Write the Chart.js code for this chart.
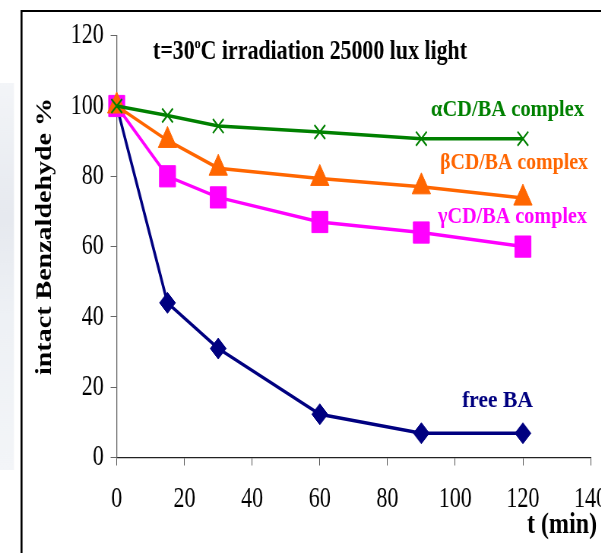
<!DOCTYPE html>
<html>
<head>
<meta charset="utf-8">
<script src="https://cdn.jsdelivr.net/npm/chart.js@4.4.1/dist/chart.umd.min.js"></script>
<style>
    html, body { margin: 0; padding: 0; background: #fff; overflow: hidden; }
    #wrap { width: 601px; height: 553px; overflow: hidden; position: relative; }
    /* the original figure is squeezed sideways, so the whole canvas is too */
    #chart { transform: scaleX(0.76); transform-origin: 0 0; display: block; }
</style>
</head>
<body>
<div id="wrap"><canvas id="chart" width="820" height="553"></canvas></div>
<script>
// Data
const times = [0, 15, 30, 60, 90, 120];
const alphaCD = [100, 97.3, 94.3, 92.6, 90.7, 90.7];
const betaCD = [100, 90.2, 82.3, 79.4, 77, 73.8];
const gammaCD = [100, 80, 74, 67, 64, 60];
const freeBA = [100, 44, 31, 12.3, 6.9, 6.9];

const xTicks = [0, 20, 40, 60, 80, 100, 120, 140];
const yTicks = [0, 20, 40, 60, 80, 100, 120];

const SQ = 0.76; // horizontal squeeze
const px = x => x / SQ; // page x -> canvas x
const SERIF = '"Liberation Serif", "Times New Roman", serif';

function pts(values) {
    return times.map((t, i) => ({ x: t, y: values[i] }));
}

// draw text squeezed to fit between x0 and x1
function fitText(ctx, parts, x0, x1, baseline, color) {
    let total = 0;
    parts.forEach(p => {
        ctx.font = p.font;
        p.w = ctx.measureText(p.text).width;
        total += p.w;
    });
    const f = (x1 - x0) / total;
    ctx.save();
    ctx.fillStyle = color;
    ctx.textBaseline = 'alphabetic';
    ctx.textAlign = 'left';
    ctx.translate(x0, baseline);
    ctx.scale(f, 1);
    let x = 0;
    parts.forEach(p => {
        ctx.font = p.font;
        ctx.fillText(p.text, x, p.dy || 0);
        x += p.w;
    });
    ctx.restore();
}

const decorations = {
    id: 'decorations',
    beforeDraw(chart) {
        const ctx = chart.ctx;
        ctx.save();
        // faded strip on the far left
        const g = ctx.createLinearGradient(0, 83, 0, 470);
        g.addColorStop(0, '#f3f5f8');
        g.addColorStop(0.35, '#e6e9ef');
        g.addColorStop(0.6, '#eef1f5');
        g.addColorStop(1, '#f3f5f8');
        ctx.fillStyle = g;
        ctx.fillRect(0, 83, px(14), 387);
        // frame
        ctx.fillStyle = '#000';
        ctx.fillRect(px(20.5), 10, px(2), 600);
        ctx.fillRect(px(20.5), 10, 900, 2);
        ctx.restore();
    },
    afterDraw(chart) {
        const ctx = chart.ctx;
        const bold = s => 'bold ' + s + 'px ' + SERIF;

        fitText(ctx, [
            { text: 't=30', font: bold(27) },
            { text: 'o', font: bold(15), dy: -11 },
            { text: 'C irradiation 25000 lux light', font: bold(27) }
        ], px(153), px(467), 59, '#000');

        fitText(ctx, [{ text: 'αCD/BA complex', font: bold(24) }], px(431), px(584), 116, '#008000');
        fitText(ctx, [{ text: 'βCD/BA complex', font: bold(24) }], px(440), px(588), 169, '#ff6600');
        fitText(ctx, [{ text: 'γCD/BA complex', font: bold(24) }], px(438), px(587), 223, '#ff00ff');
        fitText(ctx, [{ text: 'free BA', font: bold(24) }], px(462), px(533), 407, '#000080');
        fitText(ctx, [{ text: 't (min)', font: bold(29) }], px(527), px(597), 533, '#000');

        // y axis title, rotated
        ctx.save();
        ctx.translate(px(51), 375);
        ctx.rotate(-Math.PI / 2);
        fitText(ctx, [{ text: 'intact Benzaldehyde %', font: bold(29) }], 0, 277, 0, '#000');
        ctx.restore();
    }
};

const tickFont = { family: SERIF, size: 29 };

new Chart(document.getElementById('chart'), {
    type: 'line',
    data: {
        datasets: [
            {
                label: 'αCD/BA complex',
                data: pts(alphaCD),
                borderColor: '#008000',
                backgroundColor: '#008000',
                pointStyle: 'crossRot',
                pointRadius: 10,
                pointBorderWidth: 2,
                borderWidth: 3.5
            },
            {
                label: 'βCD/BA complex',
                data: pts(betaCD),
                borderColor: '#ff6600',
                backgroundColor: '#ff6600',
                pointStyle: 'triangle',
                pointRadius: 14,
                pointBorderWidth: 1,
                borderWidth: 3.5
            },
            {
                label: 'γCD/BA complex',
                data: pts(gammaCD),
                borderColor: '#ff00ff',
                backgroundColor: '#ff00ff',
                pointStyle: 'rect',
                pointRadius: 15,
                pointBorderWidth: 1,
                borderWidth: 3.5
            },
            {
                label: 'free BA',
                data: pts(freeBA),
                borderColor: '#000080',
                backgroundColor: '#000080',
                pointStyle: 'rectRot',
                pointRadius: 10.5,
                pointBorderWidth: 1,
                borderWidth: 3.5
            }
        ]
    },
    options: {
        responsive: false,
        animation: false,
        clip: false,
        elements: { line: { tension: 0 } },
        layout: { padding: { top: 35.7, left: 0, right: 820 - px(590.6), bottom: 0 } },
        plugins: { legend: { display: false }, tooltip: { enabled: false } },
        scales: {
            x: {
                type: 'linear',
                min: xTicks[0],
                max: xTicks[xTicks.length - 1],
                afterBuildTicks: scale => { scale.ticks = xTicks.map(v => ({ value: v })); },
                ticks: { font: tickFont, color: '#000', padding: 16, maxRotation: 0 },
                grid: { drawOnChartArea: false, tickLength: 8, tickColor: '#555' },
                border: { color: '#222', width: 1.3 },
                afterFit: scale => {
                    scale.height = 553 - 457.5;
                    scale.paddingLeft = 0;
                    scale.paddingRight = 0;
                }
            },
            y: {
                min: yTicks[0],
                max: yTicks[yTicks.length - 1],
                afterBuildTicks: scale => { scale.ticks = yTicks.map(v => ({ value: v })); },
                ticks: { font: tickFont, color: '#000', padding: 9 },
                grid: { drawOnChartArea: false, tickLength: 8, tickColor: '#666' },
                border: { color: '#666', width: 1.3 },
                afterFit: scale => { scale.width = px(116.7); }
            }
        }
    },
    plugins: [decorations]
});
</script>
</body>
</html>
